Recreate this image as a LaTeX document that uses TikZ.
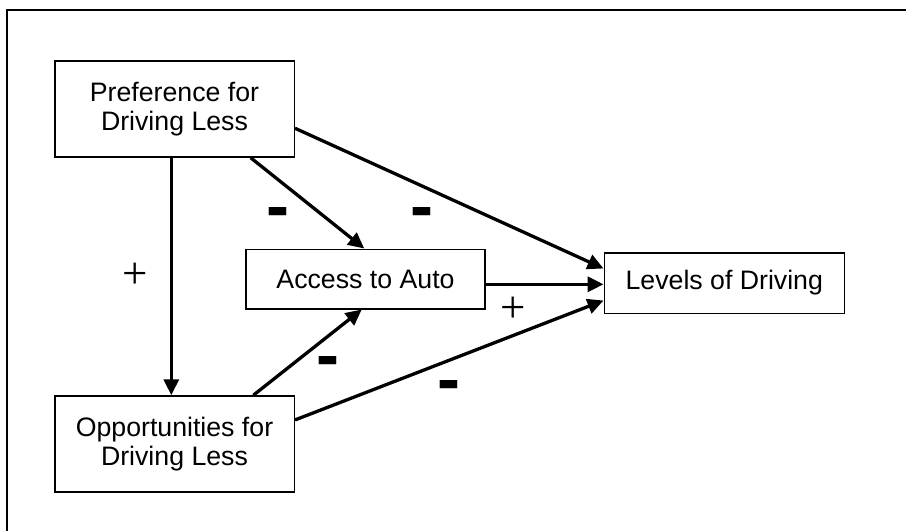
\documentclass[tikz,border=0pt]{standalone}
\usepackage{fontspec}
\setmainfont{Liberation Sans}
\newfontfamily\barfont{Liberation Sans}
\newfontfamily\plusfont{Liberation Serif}
\usetikzlibrary{arrows.meta}
\begin{document}
\begin{tikzpicture}[x=1pt,y=-1pt,
  box/.style={draw,line width=1.5pt,inner sep=0pt,align=center,
    font=\fontsize{26.7}{29.5}\selectfont},
  link/.style={line width=3.3pt,-{Triangle[length=16pt,width=15pt]}},
  plus/.style={inner sep=0pt,anchor=base,font=\plusfont\fontsize{45}{45}\selectfont},
  minus/.style={inner sep=0pt,anchor=base,font=\barfont\bfseries\fontsize{69}{69}\selectfont}]
\useasboundingbox (0,0) rectangle (906,531);
\fill[white] (0,0) rectangle (906,531);
\draw[line width=2pt] (906,9.5) -- (7,9.5) -- (7,531);
\node[box,minimum width=239.5pt,minimum height=96pt] (pref) at (174.5,109) {Preference for\\Driving Less};
\node[box,minimum width=239.5pt,minimum height=96pt] (opp) at (174.5,444) {Opportunities for\\Driving Less};
\node[box,minimum width=239pt,minimum height=59.5pt] (acc) at (365.5,279) {Access to Auto};
\node[box,minimum width=240pt,minimum height=60.5pt] (lev) at (724.3,283) {Levels of Driving};
\draw[link] ([xshift=117.3pt]pref.south west) -- ([xshift=117.3pt]opp.north west);
\draw[link] ([xshift=196.7pt]pref.south west) -- ([xshift=119pt]acc.north west);
\draw[link] ([yshift=-68pt]pref.north east) -- ([yshift=-16.5pt]lev.north west);
\draw[link] ([yshift=-5.3pt]acc.east) -- ([yshift=-5.3pt]acc.east -| lev.west);
\draw[link] ([xshift=199.3pt]opp.north west) -- ([xshift=116.5pt]acc.south west);
\draw[link] ([yshift=-24.7pt]opp.north east) -- ([yshift=13.5pt]lev.south west);
\node[plus] (p1) at (134.7,288.5) {+};
\node[plus] (p2) at (513.5,322.5) {+};
\node[minus] (m1) at (277.5,229.5) {-};
\node[minus] (m2) at (421.5,229.5) {-};
\node[minus] (m3) at (327.5,378.8) {-};
\node[minus] (m4) at (448.5,402.8) {-};
\end{tikzpicture}
\end{document}
